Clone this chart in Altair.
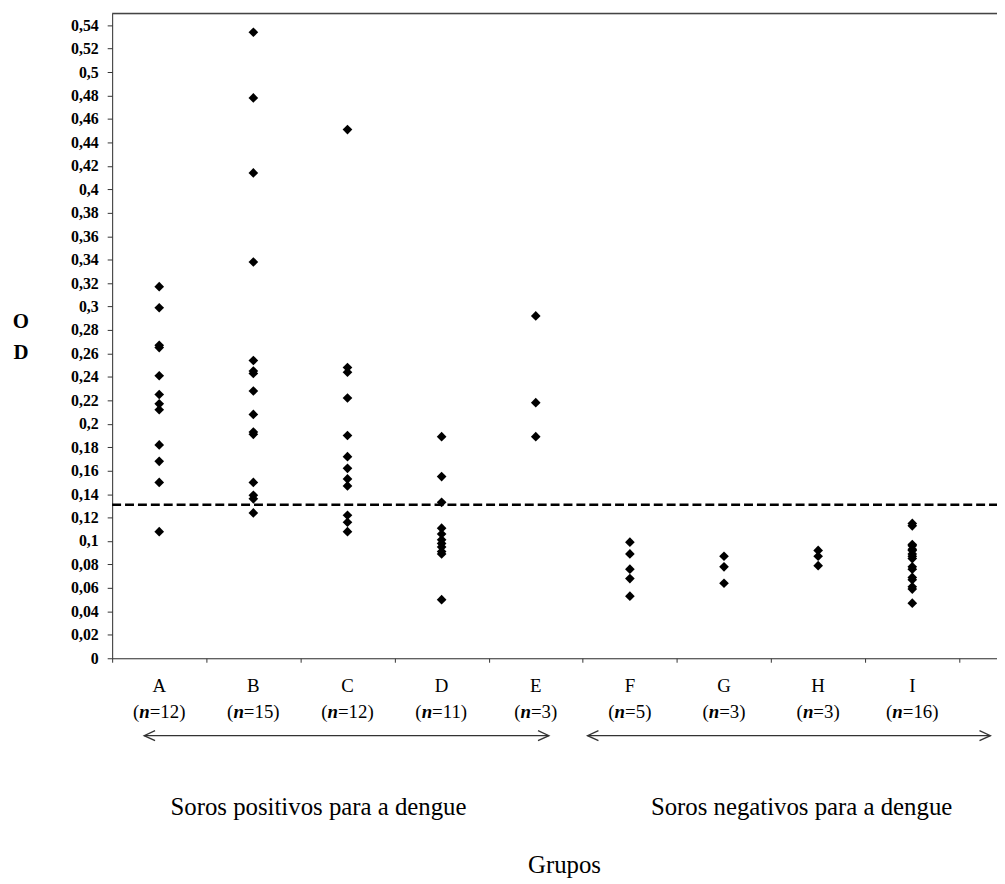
import altair as alt
import pandas as pd

# ---------------- data ----------------
groups = ["A", "B", "C", "D", "E", "F", "G", "H", "I"]
ns = [12, 15, 12, 11, 3, 5, 3, 3, 16]

vals_A = [0.317, 0.299, 0.267, 0.265, 0.241, 0.225, 0.217, 0.212, 0.182, 0.168, 0.150, 0.108]
vals_B = [0.534, 0.478, 0.414, 0.338, 0.254, 0.245, 0.243, 0.228, 0.208, 0.193, 0.191, 0.150, 0.139, 0.136, 0.124]
vals_C = [0.451, 0.248, 0.244, 0.222, 0.190, 0.172, 0.162, 0.153, 0.147, 0.122, 0.116, 0.108]
vals_D = [0.189, 0.155, 0.133, 0.111, 0.106, 0.101, 0.098, 0.095, 0.091, 0.089, 0.050]
vals_E = [0.292, 0.218, 0.189]
vals_F = [0.099, 0.089, 0.076, 0.068, 0.053]
vals_G = [0.087, 0.078, 0.064]
vals_H = [0.092, 0.087, 0.079]
vals_I = [0.115, 0.113, 0.097, 0.096, 0.093, 0.092, 0.089, 0.087, 0.085, 0.078,
          0.076, 0.069, 0.067, 0.061, 0.059, 0.047]
all_vals = [vals_A, vals_B, vals_C, vals_D, vals_E, vals_F, vals_G, vals_H, vals_I]

cutoff = 0.131
y_ticks = [round(i * 0.02, 2) for i in range(28)]
x_ticks = list(range(10))

section_labels = ["Soros positivos para a dengue", "Soros negativos para a dengue"]
section_start = [0.34, 5.05]
section_end = [4.64, 9.33]
x_title = "Grupos"
y_title = ["O", "D"]

# ---------------- layout ----------------
W, H = 892, 650
XMAX = 9.4
PX = W / XMAX
SERIF = "Liberation Serif"
LBL = 19

rows = []
for i, (g, vs) in enumerate(zip(groups, all_vals)):
    for v in vs:
        rows.append({"group": g, "pos": i + 0.5, "od": v})
pts = pd.DataFrame(rows)

lab = pd.DataFrame({"group": groups, "n": ns, "pos": [i + 0.5 for i in range(len(groups))]})
cut = pd.DataFrame({"od": [cutoff]})
sec = pd.DataFrame({"label": section_labels, "start": section_start, "end": section_end})

xs = alt.Scale(domain=[0, XMAX], nice=False, zero=False)
ys = alt.Scale(domain=[0, 0.55], nice=False, zero=True)

xaxis = alt.Axis(values=x_ticks, labels=False, title=None, grid=False, tickSize=4,
                 domainColor="#333", tickColor="#333")
yaxis = alt.Axis(values=y_ticks, title=None, grid=False, tickSize=5,
                 labelExpr="replace(format(datum.value, '.2~f'), '.', ',')",
                 labelFont=SERIF, labelFontWeight="bold", labelFontSize=16,
                 labelColor="black", labelPadding=9, labelOverlap=False,
                 labelFlush=False, labelBound=False,
                 domainColor="#333", tickColor="#333")

points = alt.Chart(pts).mark_point(shape="diamond", filled=True, color="black",
                                   size=95, opacity=1).encode(
    x=alt.X("pos:Q", scale=xs, axis=xaxis),
    y=alt.Y("od:Q", scale=ys, axis=yaxis),
)

cut_line = alt.Chart(cut).mark_rule(color="black", strokeWidth=2.5,
                                    strokeDash=[9, 4]).encode(
    y=alt.Y("od:Q", scale=ys, axis=yaxis),
    x=alt.value(0), x2=alt.value(W),
)

top_border = alt.Chart(cut).mark_rule(color="#444", strokeWidth=1.5).encode(
    y=alt.value(0), x=alt.value(0), x2=alt.value(W + 20)
)

letters = alt.Chart(lab).mark_text(font=SERIF, fontSize=LBL, color="black",
                                   align="center", baseline="middle").encode(
    x=alt.X("pos:Q", scale=xs, axis=xaxis), y=alt.value(678), text="group:N"
)

base_n = alt.Chart(lab).transform_calculate(
    ns="toString(datum.n)",
    wd="(0.333 + 0.556 + 0.564 + 0.333 + 0.5 * length(toString(datum.n))) * " + str(LBL),
).transform_calculate(
    xp="datum.pos - datum.wd / 2 / " + str(PX),
    xn="datum.pos + (-datum.wd / 2 + 0.333 * " + str(LBL) + ") / " + str(PX),
    xr="datum.pos + (-datum.wd / 2 + 0.889 * " + str(LBL) + ") / " + str(PX),
    tp="'('",
    tn="'n'",
    tr="'=' + datum.ns + ')'",
)
n_open = base_n.mark_text(font=SERIF, fontSize=LBL, color="black", align="left",
                          baseline="middle").encode(
    x=alt.X("xp:Q", scale=xs, axis=xaxis), y=alt.value(704), text="tp:N")
n_ital = base_n.mark_text(font=SERIF, fontSize=LBL, color="black", align="left",
                          baseline="middle", fontStyle="italic", fontWeight="bold").encode(
    x=alt.X("xn:Q", scale=xs, axis=xaxis), y=alt.value(704), text="tn:N")
n_rest = base_n.mark_text(font=SERIF, fontSize=LBL, color="black", align="left",
                          baseline="middle").encode(
    x=alt.X("xr:Q", scale=xs, axis=xaxis), y=alt.value(704), text="tr:N")

arrow_line = alt.Chart(sec).mark_rule(color="#333", strokeWidth=1.3).encode(
    x=alt.X("start:Q", scale=xs, axis=xaxis), x2="end:Q", y=alt.value(728)
)
head_left = alt.Chart(sec).mark_point(shape="M 2.2 -1 L 0 0 L 2.2 1", filled=False,
                                      color="#333", strokeWidth=1.3, size=100,
                                      opacity=1).encode(
    x=alt.X("start:Q", scale=xs, axis=xaxis), y=alt.value(728)
)
head_right = alt.Chart(sec).mark_point(shape="M -2.2 -1 L 0 0 L -2.2 1", filled=False,
                                       color="#333", strokeWidth=1.3, size=100,
                                       opacity=1).encode(
    x=alt.X("end:Q", scale=xs, axis=xaxis), y=alt.value(728)
)

def big_text(txt, xpix, ypix, size=25, weight="normal"):
    return alt.Chart(pd.DataFrame({"t": [txt]})).mark_text(
        font=SERIF, fontSize=size, fontWeight=weight, color="black",
        align="center", baseline="middle"
    ).encode(x=alt.value(xpix), y=alt.value(ypix), text="t:N")

sec_pos = big_text(section_labels[0], 208, 800)
sec_neg = big_text(section_labels[1], 695, 800)
grupos = big_text(x_title, 456, 858)
od_o = big_text(y_title[0], -92, 311, size=21, weight="bold")
od_d = big_text(y_title[1], -92, 342, size=21, weight="bold")

chart = alt.layer(
    top_border, cut_line, points, letters, n_open, n_ital, n_rest,
    arrow_line, head_left, head_right, sec_pos, sec_neg, grupos, od_o, od_d
).properties(
    width=W, height=H,
    padding={"left": 105, "top": 2, "right": 0, "bottom": 220},
    autosize=alt.AutoSizeParams(type="none"),
).configure_view(stroke=None).configure(background="white").configure_axis(
    labelOverlap=False
)

chart.save("out.html", embed_options={"renderer": "svg", "actions": False})
